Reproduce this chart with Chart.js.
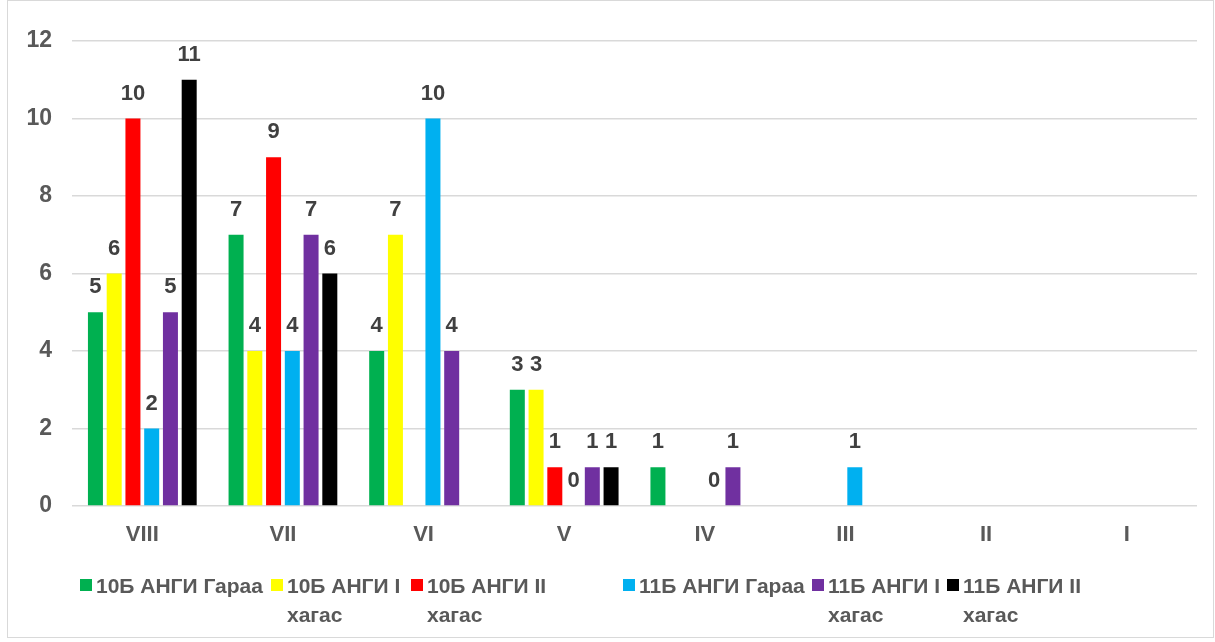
<!DOCTYPE html>
<html>
<head>
<meta charset="utf-8">
<script src="https://cdn.jsdelivr.net/npm/chart.js@4"></script>
<style>
html,body{margin:0;padding:0;background:#fff;}
#wrap{position:relative;width:1215px;height:642px;}
</style>
</head>
<body>
<div id="wrap"><canvas id="c"></canvas></div>
<script>
const categories = ["VIII", "VII", "VI", "V", "IV", "III", "II", "I"];
const seriesNames = [
  ["10Б АНГИ Гараа"],
  ["10Б АНГИ I", "хагас"],
  ["10Б АНГИ II", "хагас"],
  ["11Б АНГИ Гараа"],
  ["11Б АНГИ I", "хагас"],
  ["11Б АНГИ II", "хагас"]
];
const g10Garaa = [5, 7, 4, 3, 1, null, null, null];
const g10Half1 = [6, 4, 7, 3, null, null, null, null];
const g10Half2 = [10, 9, null, 1, null, null, null, null];
const g11Garaa = [2, 4, 10, 0, 0, 1, null, null];
const g11Half1 = [5, 7, 4, 1, 1, null, null, null];
const g11Half2 = [11, 6, null, 1, null, null, null, null];
const yTicks = [0, 2, 4, 6, 8, 10, 12];

const seriesValues = [g10Garaa, g10Half1, g10Half2, g11Garaa, g11Half1, g11Half2];
const colors = ["#00B050", "#FFFF00", "#FF0000", "#00B0F0", "#7030A0", "#000000"];

const FONT = "'Liberation Sans', Arial, sans-serif";

const labelPlugin = {
  id: 'valueLabels',
  afterDatasetsDraw(chart) {
    const ctx = chart.ctx;
    ctx.save();
    ctx.font = "bold 22px " + FONT;
    ctx.fillStyle = "#404040";
    ctx.textAlign = "center";
    ctx.textBaseline = "middle";
    chart.data.datasets.forEach((ds, di) => {
      const meta = chart.getDatasetMeta(di);
      meta.data.forEach((bar, i) => {
        const v = ds.data[i];
        if (v === null || v === undefined) return;
        ctx.fillText(String(v), bar.x, bar.y - 25);
      });
    });
    ctx.restore();
  }
};

const legendPlugin = {
  id: 'customLegend',
  afterDraw(chart) {
    const ctx = chart.ctx;
    const xs = [80, 271, 411, 623, 812, 947];
    ctx.save();
    ctx.strokeStyle = "#d9d9d9";
    ctx.lineWidth = 1;
    ctx.strokeRect(7.5, 0.5, 1206, 637);
    ctx.font = "bold 21px " + FONT;
    ctx.textAlign = "left";
    ctx.textBaseline = "alphabetic";
    chart.data.datasets.forEach((ds, di) => {
      const x = xs[di];
      ctx.fillStyle = ds.backgroundColor;
      ctx.fillRect(x, 579, 12, 12);
      ctx.fillStyle = "#595959";
      const lines = seriesNames[di];
      lines.forEach((ln, li) => {
        ctx.fillText(ln, x + 16, 593 + li * 29);
      });
    });
    ctx.restore();
  }
};

new Chart(document.getElementById('c'), {
  type: 'bar',
  data: {
    labels: categories,
    datasets: seriesValues.map((vals, i) => ({
      label: seriesNames[i].join(' '),
      data: vals,
      backgroundColor: colors[i],
      borderWidth: 0,
      categoryPercentage: 0.8,
      barPercentage: 0.8
    }))
  },
  options: {
    responsive: true,
    maintainAspectRatio: false,
    animation: false,
    layout: { padding: { left: 0, top: 41, right: 18, bottom: 0 } },
    plugins: {
      legend: { display: false },
      tooltip: { enabled: false }
    },
    scales: {
      x: {
        grid: { display: false, drawTicks: false },
        border: { display: false },
        ticks: {
          color: "#595959",
          font: { family: FONT, size: 22, weight: 'bold' },
          padding: 16,
          maxRotation: 0
        },
        afterFit(scale) { scale.height = 136; }
      },
      y: {
        min: 0,
        max: 12,
        afterBuildTicks(scale) { scale.ticks = yTicks.map(v => ({ value: v })); },
        grid: { color: "#d9d9d9", lineWidth: 1.5, drawTicks: false },
        border: { display: false },
        ticks: {
          color: "#595959",
          font: { family: FONT, size: 23, weight: 'bold' },
          padding: 20
        },
        afterFit(scale) { scale.width = 72; }
      }
    }
  },
  plugins: [labelPlugin, legendPlugin]
});
</script>
</body>
</html>
